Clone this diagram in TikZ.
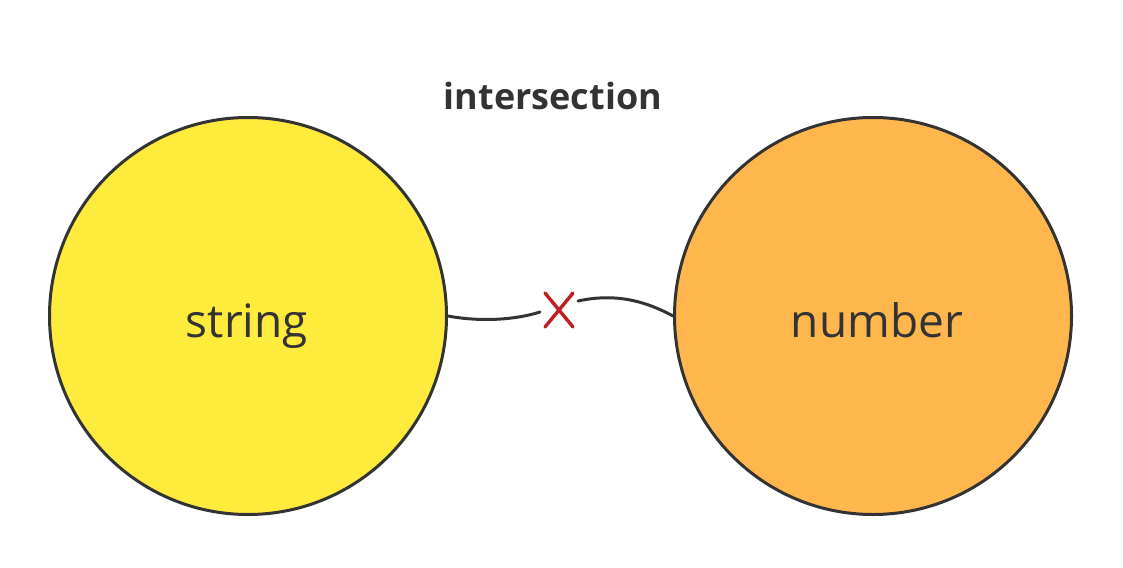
\documentclass[tikz,border=0pt]{standalone}
\usepackage{fontspec}
\setmainfont{Open Sans}
\definecolor{ink}{RGB}{51,51,51}
\definecolor{setyellow}{RGB}{255,235,59}
\definecolor{setorange}{RGB}{255,183,77}
\definecolor{xred}{RGB}{190,30,35}
\begin{document}
\begin{tikzpicture}[x=1pt,y=-1pt,
  setcircle/.style={circle,draw=ink,line width=3pt,minimum size=397pt,inner sep=0pt},
  label/.style={text=ink,font=\fontsize{46}{52}\selectfont},
  title/.style={text=ink,font=\bfseries\fontsize{36}{42}\selectfont},
  link/.style={draw=ink,line width=3pt,line cap=round},
  cross/.style={draw=xred,line width=3.4pt,line cap=round}]
\useasboundingbox (0,0) rectangle (1123,567);
\node[setcircle,fill=setyellow] (s) at (248,316) {};
\node[setcircle,fill=setorange] (n) at (873,316) {};
\node[label,anchor=base] (ls) at (247,337) {string};
\node[label,anchor=base] (ln) at (877,337) {number};
\node[title,anchor=base] (t) at (553,110) {intersection};
\coordinate (x1) at (540,312);
\coordinate (x2) at (578,301);
\draw[link] (s.east) .. controls (480,322) and (515,320) .. (x1);
\draw[link] (x2) .. controls (610,294) and (640,298) .. (n.west);
\coordinate (xa) at (545,293);
\coordinate (xb) at (573,327);
\coordinate (xc) at (573,293);
\coordinate (xd) at (545,327);
\draw[cross] (xa) -- (xb);
\draw[cross] (xc) -- (xd);
\end{tikzpicture}
\end{document}
